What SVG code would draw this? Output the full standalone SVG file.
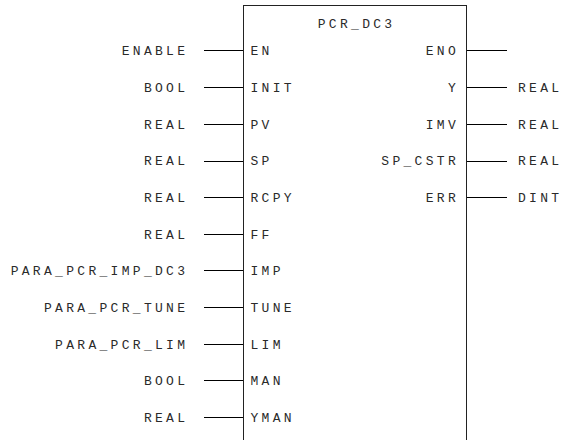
<svg xmlns="http://www.w3.org/2000/svg" width="561" height="440" viewBox="0 0 561 440">
  <style>
    text { font-family: "Liberation Mono", "Courier New", monospace; font-size: 13px; letter-spacing: 3.3px; fill: #2a2a2a; }
    .l { text-anchor: end; }
    .c { text-anchor: middle; }
    .pin { stroke: #000; stroke-width: 1; fill: none; }
    .box { stroke: #222; stroke-width: 1; fill: #fff; }
  </style>
  <rect width="561" height="440" fill="#fff"/>

  <!-- function block body -->
  <g id="block">
    <rect class="box" x="243.5" y="5.5" width="223" height="440"/>
    <text class="c" x="356.6" y="28">PCR_DC3</text>
  </g>

  <!-- pin stubs -->
  <g id="connectors">
    <path class="pin" d="M204 50.5H243 M204 87.5H243 M204 124.5H243 M204 161.5H243 M204 197.5H243 M204 234.5H243 M204 270.5H243 M204 307.5H243 M204 344.5H243 M204 380.5H243 M204 417.5H243"/>
    <path class="pin" d="M467 50.5H507 M467 87.5H507 M467 124.5H507 M467 161.5H507 M467 197.5H507"/>
  </g>

  <!-- inputs -->
  <g id="in-EN"><text class="l" x="188.3" y="54.5">ENABLE</text><text x="250.5" y="54.5">EN</text></g>
  <g id="in-INIT"><text class="l" x="188.3" y="91.5">BOOL</text><text x="250.5" y="91.5">INIT</text></g>
  <g id="in-PV"><text class="l" x="188.3" y="128.5">REAL</text><text x="250.5" y="128.5">PV</text></g>
  <g id="in-SP"><text class="l" x="188.3" y="165">REAL</text><text x="250.5" y="165">SP</text></g>
  <g id="in-RCPY"><text class="l" x="188.3" y="201.5">REAL</text><text x="250.5" y="201.5">RCPY</text></g>
  <g id="in-FF"><text class="l" x="188.3" y="238.5">REAL</text><text x="250.5" y="238.5">FF</text></g>
  <g id="in-IMP"><text class="l" x="188.3" y="275">PARA_PCR_IMP_DC3</text><text x="250.5" y="275">IMP</text></g>
  <g id="in-TUNE"><text class="l" x="188.3" y="311.5">PARA_PCR_TUNE</text><text x="250.5" y="311.5">TUNE</text></g>
  <g id="in-LIM"><text class="l" x="188.3" y="348.5">PARA_PCR_LIM</text><text x="250.5" y="348.5">LIM</text></g>
  <g id="in-MAN"><text class="l" x="188.3" y="385">BOOL</text><text x="250.5" y="385">MAN</text></g>
  <g id="in-YMAN"><text class="l" x="188.3" y="421.5">REAL</text><text x="250.5" y="421.5">YMAN</text></g>

  <!-- outputs -->
  <g id="out-ENO"><text class="l" x="459" y="54.5">ENO</text></g>
  <g id="out-Y"><text class="l" x="459" y="91.5">Y</text><text x="518" y="91.5">REAL</text></g>
  <g id="out-IMV"><text class="l" x="459" y="128.5">IMV</text><text x="518" y="128.5">REAL</text></g>
  <g id="out-SP_CSTR"><text class="l" x="459" y="165">SP_CSTR</text><text x="518" y="165">REAL</text></g>
  <g id="out-ERR"><text class="l" x="459" y="201.5">ERR</text><text x="518" y="201.5">DINT</text></g>
</svg>
